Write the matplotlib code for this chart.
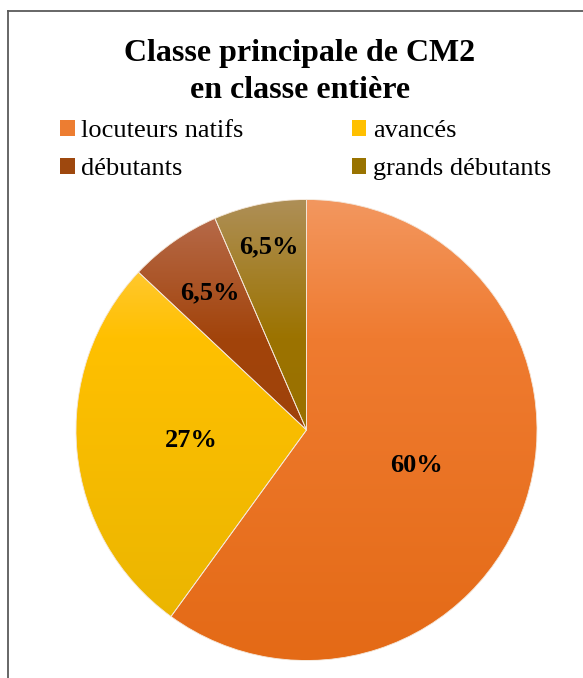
import numpy as np
import matplotlib.pyplot as plt
from matplotlib.patches import Patch
from matplotlib.lines import Line2D
from matplotlib.colors import LinearSegmentedColormap

plt.rcParams['font.family'] = ['Liberation Serif', 'DejaVu Serif']

# données
categories = ['locuteurs natifs', 'avancés', 'débutants', 'grands débutants']
values = [60, 27, 6.5, 6.5]
pct_labels = ['60%', '27%', '6,5%', '6,5%']
title = 'Classe principale de CM2\nen classe entière'

# couleurs en dégradé : bas, milieu, haut
grad_bot = ['#E46A16', '#E8B400', '#963E06', '#916A00']
grad_mid = ['#EF7B30', '#FFC000', '#A2440B', '#9C7300']
grad_top = ['#F3975F', '#FFD060', '#B96F52', '#AE8F57']
base_cols = ['#ED7D31', '#FFC000', '#9E480E', '#997300']
label_dist = [0.5, 0.5, 0.73, 0.81]

fig = plt.figure(figsize=(5.83, 6.78), dpi=100)
W, H = 583, 678

# cadre (gauche + haut)
fig.add_artist(Line2D([8 / W, 8 / W], [0, 1 - 11 / H], transform=fig.transFigure,
                      color='#5a5a5a', lw=1.3))
fig.add_artist(Line2D([8 / W, 1], [1 - 11 / H, 1 - 11 / H], transform=fig.transFigure,
                      color='#5a5a5a', lw=1.3))

# camembert
cx, cy, r = 306.5, 430, 230.5
ax = fig.add_axes([(cx - r) / W, (H - cy - r) / H, 2 * r / W, 2 * r / H])
wedges, _ = ax.pie(values, startangle=90, counterclock=False,
                   wedgeprops=dict(facecolor='none', edgecolor='#f4e6d8', linewidth=0.6))
ax.set_xlim(-1, 1)
ax.set_ylim(-1, 1)
ax.set_aspect('equal')
ax.axis('off')

grad = np.linspace(1, 0, 256).reshape(-1, 1)
for i, w in enumerate(wedges):
    cmap = LinearSegmentedColormap.from_list(
        f'g{i}', [(0, grad_bot[i]), (0.7, grad_mid[i]), (1, grad_top[i])])
    im = ax.imshow(grad, cmap=cmap, extent=(-1, 1, -1, 1), aspect='auto',
                   origin='upper', zorder=0.5)
    im.set_clip_path(w)
    w.set_zorder(1)

for i, w in enumerate(wedges):
    ang = np.deg2rad((w.theta1 + w.theta2) / 2)
    d = label_dist[i]
    ax.text(d * np.cos(ang), d * np.sin(ang), pct_labels[i], ha='center', va='center',
            fontsize=19, fontweight='bold', color='black', zorder=3)

# titre
fig.text(300 / W, 1 - 72 / H, title, ha='center', va='center', fontsize=23,
         fontweight='bold', linespacing=1.4)

# légende (rangées : natifs / avancés, débutants / grands débutants)
order = [0, 2, 1, 3]
handles = [Patch(facecolor=base_cols[i], edgecolor='none') for i in order]
labels = [categories[i] for i in order]
leg = fig.legend(handles, labels, ncol=2, loc='center left',
                 bbox_to_anchor=(47 / W, 1 - 150 / H), frameon=False, fontsize=19,
                 handlelength=0.55, handleheight=0.55, handletextpad=0.25,
                 columnspacing=4.1, labelspacing=0.6, borderpad=0)

fig.savefig('out.png', dpi=100, facecolor='white')
